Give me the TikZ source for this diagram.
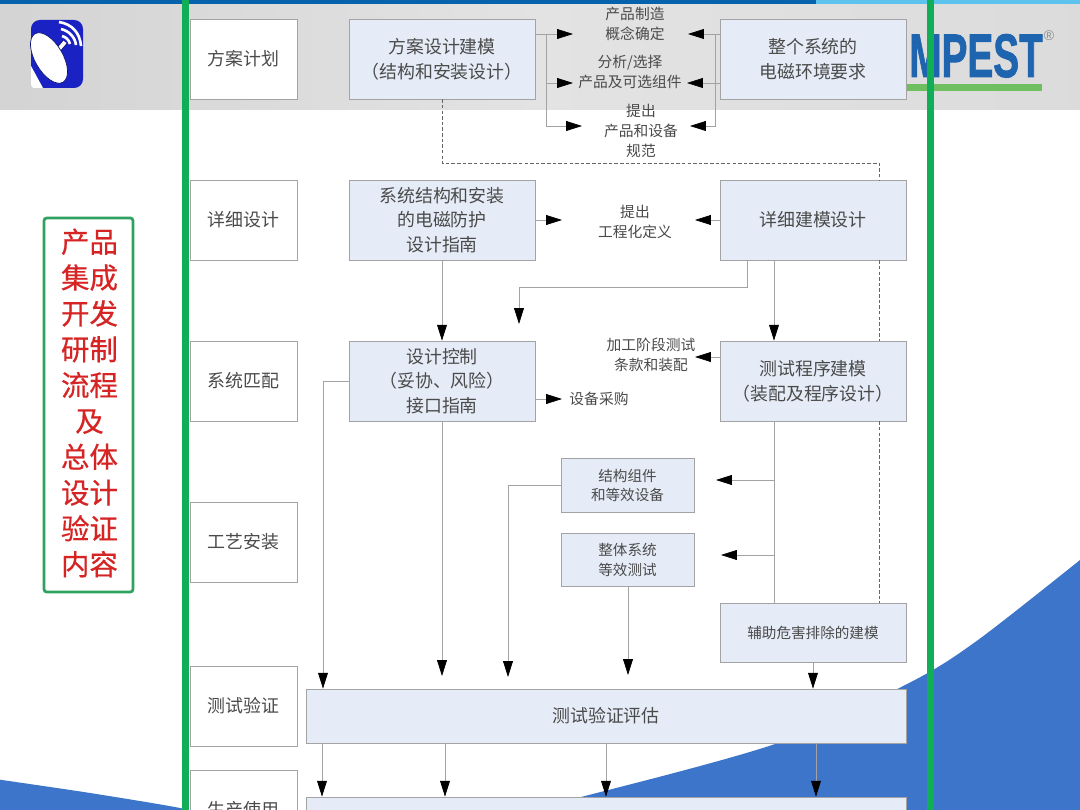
\documentclass[tikz,border=0pt]{standalone}
\usepackage{fontspec}
\usepackage{xcolor}
\usepackage{tikz}
\usetikzlibrary{arrows.meta}
\setmainfont{Noto Sans CJK SC}
\newfontfamily\logofont[BoldFeatures={FakeBold=1.5}]{Liberation Sans}
\newfontfamily\titlefont[FakeBold=0.5]{Noto Sans CJK SC}
\definecolor{muted}{HTML}{A3A3A3}
\definecolor{boxfill}{HTML}{E6ECF7}
\definecolor{inktext}{HTML}{4A4A4A}
\definecolor{bandblue}{HTML}{3C75C9}
\definecolor{framegreen}{HTML}{0FAE57}
\definecolor{titlegreen}{HTML}{2FA25F}
\definecolor{titlered}{HTML}{D62424}
\definecolor{barblue}{HTML}{0563AE}
\definecolor{barlight}{HTML}{5CC2EE}
\definecolor{logoblue}{HTML}{1F64AE}
\definecolor{logogreen}{HTML}{6FBE5F}
\definecolor{dishblue}{HTML}{1B22C4}
\begin{document}
\begin{tikzpicture}[
    x=0.02cm, y=-0.02cm,
    stage/.style={rectangle, minimum width=2.14cm, minimum height=1.6cm, inner sep=0pt, draw=muted, fill=white, text=inktext, font=\fontsize{10.2}{14}\selectfont, align=center},
    model/.style={stage, minimum width=3.72cm, fill=boxfill},
    part/.style={stage, minimum width=2.66cm, minimum height=1.07cm, fill=boxfill, font=\fontsize{8.3}{11.3}\selectfont},
    wide/.style={stage, minimum width=12cm, minimum height=1.08cm, fill=boxfill},
    note/.style={inner sep=0pt, text=inktext, font=\fontsize{8.4}{11.3}\selectfont, align=center},
    wire/.style={-, color=muted, thin},
    arr/.style={wire, -{Triangle[length=9pt, width=5.6pt, color=black]}},
    dashline/.style={-, color=black!60, very thin, dash pattern=on 2pt off 1.2pt}
]
    \useasboundingbox (0,0) rectangle (1080,810);
    \clip (0,0) rectangle (1080,810);

    % page background
    \fill[white] (0,0) rectangle (1080,810);
    \path[left color=black!17, right color=black!14, middle color=black!11] (0,5) rectangle (1080,110);
    \fill[barblue] (0,0) rectangle (816,4);
    \fill[barlight] (816,0) rectangle (1080,4);
    \fill[bandblue] plot[smooth] coordinates {(1080,560) (978,640) (911,682) (778,743) (585,796) (500,815)} -- (1080,815) -- cycle;
    \fill[bandblue] plot[smooth] coordinates {(-5,779) (90,793) (180,808) (200,815)} -- (-5,815) -- cycle;

    % logo
    \fill[dishblue, rounded corners=5pt] (31,20) rectangle (83,88);
    \fill[white] (31,66) -- (31,85) -- (33,88) -- (43,88) -- cycle;
    \draw[white, line width=1.5pt] (59,22) .. controls (72,24) and (80,33) .. (81,46);
    \draw[white, line width=1.5pt] (61,29) .. controls (69,31) and (75,37) .. (76,45);
    \draw[white, line width=1.5pt] (62,36) .. controls (66,37) and (69,40) .. (70,44);
    \draw[dishblue!60!black, line width=3.2pt] (53,56) -- (65,42);
    \draw[white, line width=2.2pt] (53,56) -- (65,42);
    \filldraw[fill=white, draw=dishblue!60!black, rotate around={-60:(49,58)}] (49,58) ellipse [x radius=28, y radius=14];

    \node[inner sep=0pt, anchor=base east, text=logoblue, font=\logofont\fontsize{35}{35}\selectfont\bfseries, xscale=0.63] (brand) at (1043,77) {MPEST};
    \node[inner sep=0pt, text=black!45!white, font=\logofont\fontsize{8}{8}\selectfont] (mark) at (1049,36) {®};
    \fill[logogreen] (880,84) rectangle (1042,91);

    % stages
    \node[stage] (plan) at (243.5,59) {方案计划};
    \node[stage] (detail) at (243.5,220) {详细设计};
    \node[stage] (match) at (243.5,381) {系统匹配};
    \node[stage] (craft) at (243.5,542) {工艺安装};
    \node[stage] (verify) at (243.5,706) {测试验证};
    \node[stage] (usage) at (243.5,810) {生产使用};

    % models
    \node[model] (concept) at (442,59) {方案设计建模\\（结构和安装设计）};
    \node[model] (emc) at (813,59) {整个系统的\\电磁环境要求};
    \node[model] (guide) at (442,220) {系统结构和安装\\的电磁防护\\设计指南};
    \node[model] (fine) at (813,220) {详细建模设计};
    \node[model] (control) at (442,381) {设计控制\\（妥协、风险）\\接口指南};
    \node[model] (program) at (813,381) {测试程序建模\\（装配及程序设计）};
    \node[part] (struct) at (627.5,485.5) {结构组件\\和等效设备};
    \node[part] (equiv) at (627.5,560) {整体系统\\等效测试};
    \node[part, minimum width=3.72cm, minimum height=1.18cm] (aux) at (813,632.5) {辅助危害排除的建模};
    \node[wide] (eval) at (606,716) {测试验证评估};
    \node[wide, minimum height=1.12cm] (prod) at (606,825) {};

    % free labels
    \node[note] (idea) at (635,24) {产品制造\\概念确定};
    \node[note] (option) at (630,72) {分析/选择\\产品及可选组件};
    \node[note] (spec) at (641,131) {提出\\产品和设备\\规范};
    \node[note] (define) at (635,222) {提出\\工程化定义};
    \node[note] (clause) at (651,355) {加工阶段测试\\条款和装配};
    \node[note] (buy) at (599,399) {设备采购};

    \node[rectangle, rounded corners=1.5pt, minimum width=1.78cm, minimum height=7.48cm, inner sep=0pt, draw=titlegreen, line width=0.055cm] (titlebox) at (88.5,405) {};
    \node[inner sep=0pt, text=titlered, font=\titlefont\fontsize{16.2}{20.4}\selectfont, align=center] (title) at (89.5,403) {产品\\集成\\开发\\研制\\流程\\及\\总体\\设计\\验证\\内容};

    % free ends
    \coordinate (leftbus) at (546,34);
    \coordinate (rightbus) at (715,34);
    \coordinate (a1) at (573,34);
    \coordinate (a2) at (573,83);
    \coordinate (a3) at (582,126);
    \coordinate (b1) at (688,34);
    \coordinate (b2) at (687,83);
    \coordinate (b3) at (690,126);
    \coordinate (c1) at (562,220);
    \coordinate (c2) at (695,220);
    \coordinate (c3) at (519,324);
    \coordinate (c4) at (695,357);
    \coordinate (c5) at (562,399);
    \coordinate (d1) at (716,480);
    \coordinate (d2) at (721,555);
    \coordinate (dashtop) at (879,163);
    \coordinate (e1) at (442,676);
    \coordinate (e2) at (508,677);
    \coordinate (e3) at (628,675);

    \draw[arr] (concept.east |- a1) -- (a1);
    \draw[wire] (leftbus) -- (leftbus |- a2);
    \draw[arr] (leftbus |- a2) -- (a2);
    \draw[arr] (leftbus) |- (a3);
    \draw[arr] (emc.west |- b1) -- (b1);
    \draw[arr] (emc.west |- b2) -- (b2);
    \draw[arr] (rightbus) |- (b3);

    \draw[dashline] (concept.south) |- (dashtop) -- (fine.north -| dashtop);
    \draw[dashline] (fine.south -| dashtop) -- (program.north -| dashtop);
    \draw[dashline] (program.south -| dashtop) -- (aux.north -| dashtop);

    \draw[arr] (guide.east) -- (c1);
    \draw[arr] (fine.west) -- (c2);
    \draw[arr] (guide.south) -- (control.north);
    \draw[arr] (fine.south -| 747,0) -- (747,287) -| (c3);
    \draw[arr] (fine.south -| 774,0) -- (program.north -| 774,0);
    \draw[arr] (program.west |- c4) -- (c4);
    \draw[arr] (control.east |- c5) -- (c5);

    \draw[wire] (program.south -| 774,0) -- (aux.north -| 774,0);
    \draw[arr] (d1 -| 774,0) -- (d1);
    \draw[arr] (d2 -| 774,0) -- (d2);

    \draw[arr] (control.west) -- (323,381) -- (eval.north -| 323,0);
    \draw[arr] (control.south) -- (e1);
    \draw[arr] (struct.west) -| (e2);
    \draw[arr] (equiv.south -| e3) -- (e3);
    \draw[arr] (aux.south) -- (eval.north -| aux.south);

    \draw[arr] (eval.south -| 322,0) -- (prod.north -| 322,0);
    \draw[arr] (eval.south -| 445,0) -- (prod.north -| 445,0);
    \draw[arr] (eval.south -| 606,0) -- (prod.north -| 606,0);
    \draw[arr] (eval.south -| 816,0) -- (prod.north -| 816,0);

    % green rails
    \draw[framegreen, line width=0.13cm] (185.5,0) -- (185.5,810);
    \draw[framegreen, line width=0.13cm] (930.5,0) -- (930.5,810);
\end{tikzpicture}
\end{document}
